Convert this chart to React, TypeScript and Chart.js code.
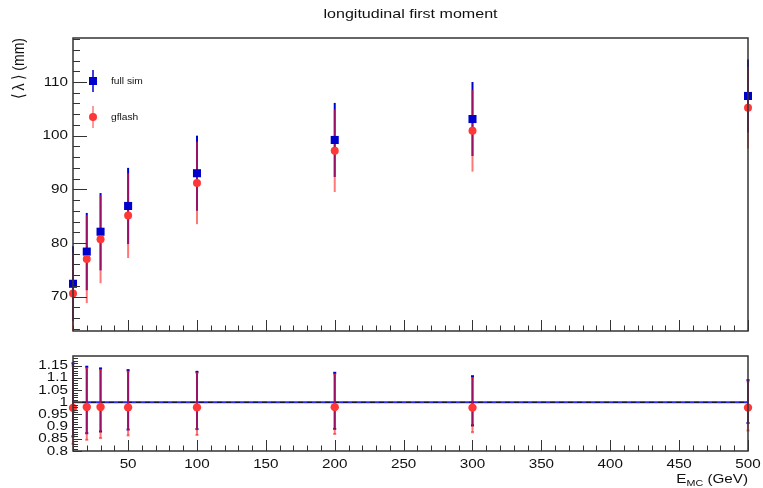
import { useEffect, useRef } from "react";
import { Chart, registerables } from "chart.js";
Chart.register(...registerables);

// ---------------- data ----------------
const energies = [10, 20, 30, 50, 100, 200, 300, 500];
const fullSim = [72.4, 78.4, 82.1, 86.9, 93.0, 99.2, 103.1, 107.4];
const fullSimErr = [7.0, 7.2, 7.2, 7.1, 7.0, 6.9, 6.9, 6.8];
const gflash = [70.6, 77.0, 80.7, 85.1, 91.2, 97.2, 100.9, 105.2];
const gflashErr = [7.6, 8.2, 8.2, 7.9, 7.7, 7.7, 7.6, 7.6];

const ratio = [0.977, 0.981, 0.981, 0.979, 0.979, 0.98, 0.978, 0.978];
const fullRatioHi = [1.16, 1.146, 1.139, 1.132, 1.125, 1.121, 1.107, 1.091];
const fullRatioLo = [0.86, 0.873, 0.88, 0.888, 0.89, 0.891, 0.905, 0.915];
const gflashRatioHi = [1.15, 1.14, 1.133, 1.126, 1.12, 1.115, 1.1, 1.085];
const gflashRatioLo = [0.83, 0.846, 0.853, 0.864, 0.866, 0.87, 0.877, 0.884];

const seriesNames = ["full sim", "gflash"];
const xTickValues = [50, 100, 150, 200, 250, 300, 350, 400, 450, 500];
const xTickLabels = ["50", "100", "150", "200", "250", "300", "350", "400", "450", "500"];
const yTickValues = [70, 80, 90, 100, 110];
const yTickLabels = ["70", "80", "90", "100", "110"];
const ratioTickValues = [0.8, 0.85, 0.9, 0.95, 1, 1.05, 1.1, 1.15];
const ratioTickLabels = ["0.8", "0.85", "0.9", "0.95", "1", "1.05", "1.1", "1.15"];
const titleText = "longitudinal first moment";
const yTitleText = "⟨ λ ⟩ (mm)";

// ---------------- style ----------------
const FONT = '"Liberation Sans", Arial, Helvetica, sans-serif';
const SX = 1.19; // horizontal stretch of the reference text
const BLUE = "rgb(0,0,205)";
const RED_BAR = "rgba(255,30,30,0.6)";
const RED_PT = "rgb(255,55,55)";
const AXIS = "#333";

function sText(ctx: CanvasRenderingContext2D, t: string, x: number, y: number, align: CanvasTextAlign, size: number, base: CanvasTextBaseline = "middle") {
  ctx.save();
  ctx.translate(x, y);
  ctx.scale(SX, 1);
  ctx.font = `${size}px ${FONT}`;
  ctx.textAlign = align;
  ctx.textBaseline = base;
  ctx.fillStyle = "#111";
  ctx.fillText(t, 0, 0);
  ctx.restore();
}

function vline(ctx: CanvasRenderingContext2D, x: number, y1: number, y2: number) {
  ctx.beginPath();
  ctx.moveTo(x, y1);
  ctx.lineTo(x, y2);
  ctx.stroke();
}
function hline(ctx: CanvasRenderingContext2D, x1: number, x2: number, y: number) {
  ctx.beginPath();
  ctx.moveTo(x1, y);
  ctx.lineTo(x2, y);
  ctx.stroke();
}

function drawXTicks(ctx: CanvasRenderingContext2D, chart: any) {
  const a = chart.chartArea;
  const xs = chart.scales.x;
  ctx.strokeStyle = AXIS;
  ctx.lineWidth = 1;
  for (let v = 10; v <= 500; v += 10) {
    const px = Math.round(xs.getPixelForValue(v)) + 0.5;
    const len = v % 50 === 0 ? 11 : 5.5;
    vline(ctx, px, a.bottom, a.bottom - len);
  }
}

const topPlugin = {
  id: "topDecor",
  beforeDatasetsDraw(chart: any) {
    const ctx: CanvasRenderingContext2D = chart.ctx;
    const a = chart.chartArea;
    const xs = chart.scales.x;
    const ys = chart.scales.y;
    ctx.save();
    ctx.beginPath();
    ctx.rect(a.left - 20, a.top, a.right - a.left + 40, a.bottom - a.top);
    ctx.clip();
    ctx.lineWidth = 2;
    ctx.strokeStyle = BLUE;
    energies.forEach((e, i) => {
      const px = xs.getPixelForValue(e);
      vline(ctx, px, ys.getPixelForValue(fullSim[i] + fullSimErr[i]), ys.getPixelForValue(fullSim[i] - fullSimErr[i]));
    });
    ctx.strokeStyle = RED_BAR;
    energies.forEach((e, i) => {
      const px = xs.getPixelForValue(e);
      vline(ctx, px, ys.getPixelForValue(gflash[i] + gflashErr[i]), ys.getPixelForValue(gflash[i] - gflashErr[i]));
    });
    ctx.restore();
  },
  afterDraw(chart: any) {
    const ctx: CanvasRenderingContext2D = chart.ctx;
    const a = chart.chartArea;
    const ys = chart.scales.y;
    ctx.save();
    // frame
    ctx.strokeStyle = AXIS;
    ctx.lineWidth = 1.5;
    ctx.strokeRect(a.left, a.top, a.right - a.left, a.bottom - a.top);
    drawXTicks(ctx, chart);
    // y ticks
    ctx.lineWidth = 1;
    for (let v = 64; v <= 118; v += 2) {
      const py = Math.round(ys.getPixelForValue(v)) + 0.5;
      const len = v % 10 === 0 ? 14 : 7;
      hline(ctx, a.left, a.left + len, py);
    }
    yTickValues.forEach((v, i) => {
      sText(ctx, yTickLabels[i], a.left - 5, ys.getPixelForValue(v), "right", 12.8);
    });
    // title
    sText(ctx, titleText, (a.left + a.right) / 2, 14, "center", 13.5);
    // y title
    ctx.save();
    ctx.translate(19, a.top);
    ctx.rotate(-Math.PI / 2);
    ctx.scale(1, SX);
    ctx.font = `14px ${FONT}`;
    ctx.textAlign = "right";
    ctx.textBaseline = "middle";
    ctx.fillStyle = "#111";
    ctx.fillText(yTitleText, 0, 0);
    ctx.restore();
    // legend
    const lx = a.left + 20;
    const y1 = a.top + 43;
    const y2 = a.top + 79;
    ctx.lineWidth = 1.5;
    ctx.strokeStyle = BLUE;
    vline(ctx, lx, y1 - 11, y1 + 11);
    ctx.fillStyle = BLUE;
    ctx.fillRect(lx - 4, y1 - 4, 8, 8);
    ctx.strokeStyle = RED_BAR;
    vline(ctx, lx, y2 - 11, y2 + 11);
    ctx.fillStyle = RED_PT;
    ctx.beginPath();
    ctx.arc(lx, y2, 4, 0, Math.PI * 2);
    ctx.fill();
    sText(ctx, seriesNames[0], lx + 18, y1 + 1, "left", 8.6);
    sText(ctx, seriesNames[1], lx + 18, y2 + 1, "left", 8.6);
    ctx.restore();
  },
};

const RATIO_POINTS_INDEX = 2;
const bottomPlugin = {
  id: "bottomDecor",
  beforeDatasetDraw(chart: any, args: any) {
    if (args.index !== RATIO_POINTS_INDEX) return;
    const ctx: CanvasRenderingContext2D = chart.ctx;
    const xs = chart.scales.x;
    const ys = chart.scales.y;
    ctx.save();
    ctx.lineWidth = 2;
    const draw = (hi: number[], lo: number[], color: string) => {
      ctx.strokeStyle = color;
      energies.forEach((e, i) => {
        const px = xs.getPixelForValue(e);
        const t = ys.getPixelForValue(hi[i]);
        const b = ys.getPixelForValue(lo[i]);
        vline(ctx, px, t, b);
        hline(ctx, px - 1.5, px + 1.5, t);
        hline(ctx, px - 1.5, px + 1.5, b);
      });
    };
    draw(fullRatioHi, fullRatioLo, BLUE);
    draw(gflashRatioHi, gflashRatioLo, RED_BAR);
    ctx.restore();
  },
  afterDraw(chart: any) {
    const ctx: CanvasRenderingContext2D = chart.ctx;
    const a = chart.chartArea;
    const xs = chart.scales.x;
    const ys = chart.scales.y;
    ctx.save();
    ctx.strokeStyle = AXIS;
    ctx.lineWidth = 1.5;
    ctx.strokeRect(a.left, a.top, a.right - a.left, a.bottom - a.top);
    drawXTicks(ctx, chart);
    ctx.lineWidth = 1;
    for (let k = 80; k <= 118; k += 1) {
      const py = Math.round(ys.getPixelForValue(k / 100)) + 0.5;
      const len = k % 5 === 0 ? 9 : 5;
      hline(ctx, a.left, a.left + len, py);
    }
    ratioTickValues.forEach((v, i) => {
      sText(ctx, ratioTickLabels[i], a.left - 5, ys.getPixelForValue(v), "right", 12.8);
    });
    xTickValues.forEach((v, i) => {
      sText(ctx, xTickLabels[i], xs.getPixelForValue(v), a.bottom + 13, "center", 12.8);
    });
    // x title E_MC (GeV)
    ctx.font = `12.8px ${FONT}`;
    const wE = ctx.measureText("E").width;
    const wR = ctx.measureText(" (GeV)").width;
    ctx.font = `9px ${FONT}`;
    const wS = ctx.measureText("MC").width;
    const total = (wE + wS + wR) * SX;
    let x0 = a.right - total;
    const base = a.bottom + 32;
    sText(ctx, "E", x0, base, "left", 12.8, "alphabetic");
    x0 += wE * SX;
    sText(ctx, "MC", x0, base + 3, "left", 9, "alphabetic");
    x0 += wS * SX;
    sText(ctx, " (GeV)", x0, base, "left", 12.8, "alphabetic");
    ctx.restore();
  },
};

export default function App() {
  const topRef = useRef<HTMLCanvasElement>(null);
  const botRef = useRef<HTMLCanvasElement>(null);

  useEffect(() => {
    const xScale = { type: "linear" as const, min: 10, max: 500, display: false };
    const top = new Chart(topRef.current!, {
      type: "scatter",
      data: {
        datasets: [
          {
            label: seriesNames[0],
            data: energies.map((e, i) => ({ x: e, y: fullSim[i] })),
            pointStyle: "rect",
            pointRadius: 5.7,
            pointBackgroundColor: BLUE,
            pointBorderWidth: 0,
            clip: false,
            order: 2,
          } as any,
          {
            label: seriesNames[1],
            data: energies.map((e, i) => ({ x: e, y: gflash[i] })),
            pointStyle: "circle",
            pointRadius: 4,
            pointBackgroundColor: RED_PT,
            pointBorderWidth: 0,
            clip: false,
            order: 1,
          } as any,
        ],
      },
      options: {
        responsive: false,
        animation: false,
        layout: { padding: { left: 73, right: 15, top: 38, bottom: 14 } },
        scales: {
          x: xScale,
          y: { type: "linear", min: 63.6, max: 118.2, display: false },
        },
        plugins: { legend: { display: false }, tooltip: { enabled: false }, title: { display: false } },
        events: [],
      },
      plugins: [topPlugin],
    });

    const bottom = new Chart(botRef.current!, {
      type: "scatter",
      data: {
        datasets: [
          {
            type: "line",
            data: [{ x: 10, y: 1 }, { x: 500, y: 1 }],
            borderColor: "rgb(40,40,235)",
            borderWidth: 2,
            pointRadius: 0,
            order: 3,
          } as any,
          {
            type: "line",
            data: [{ x: 10, y: 1 }, { x: 500, y: 1 }],
            borderColor: "#111",
            borderWidth: 1,
            borderDash: [5, 4],
            pointRadius: 0,
            order: 2,
          } as any,
          {
            label: "ratio",
            data: energies.map((e, i) => ({ x: e, y: ratio[i] })),
            pointStyle: "circle",
            pointRadius: 4.2,
            pointBackgroundColor: RED_PT,
            pointBorderWidth: 0,
            clip: false,
            order: 1,
          } as any,
        ],
      },
      options: {
        responsive: false,
        animation: false,
        layout: { padding: { left: 73, right: 15, top: 11, bottom: 37 } },
        scales: {
          x: xScale,
          y: { type: "linear", min: 0.8, max: 1.19, display: false },
        },
        plugins: { legend: { display: false }, tooltip: { enabled: false }, title: { display: false } },
        events: [],
      },
      plugins: [bottomPlugin],
    });

    return () => {
      top.destroy();
      bottom.destroy();
    };
  }, []);

  return (
    <div style={{ position: "fixed", left: 0, top: 0, width: 763, height: 488, background: "#fff" }}>
      <canvas ref={topRef} width={763} height={345} style={{ position: "absolute", left: 0, top: 0 }} />
      <canvas ref={botRef} width={763} height={143} style={{ position: "absolute", left: 0, top: 345 }} />
    </div>
  );
}
